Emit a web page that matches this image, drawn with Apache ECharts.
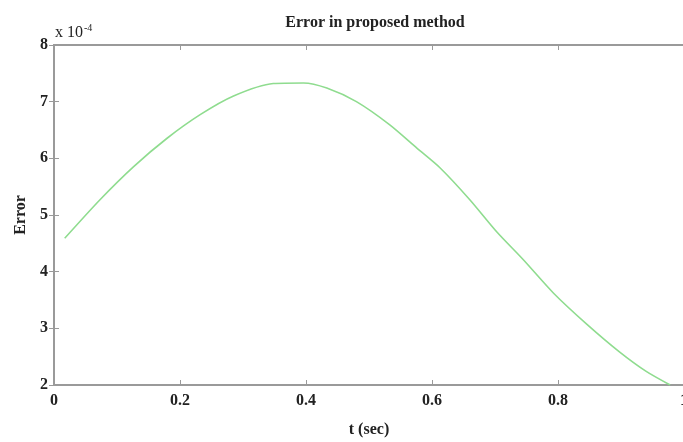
<!DOCTYPE html>
<html>
<head>
<meta charset="utf-8">
<script src="https://cdn.jsdelivr.net/npm/echarts@6/dist/echarts.min.js"></script>
<style>html,body{margin:0;padding:0;background:#fff}#c{width:683px;height:442px}</style>
</head>
<body>
<div id="c"></div>
<script>
// t (sec)
const tValues = [0.017, 0.073, 0.126, 0.179, 0.232, 0.285, 0.348, 0.396, 0.433, 0.480, 0.533, 0.576, 0.613, 0.660, 0.703, 0.745, 0.793, 0.846, 0.898, 0.940, 0.978];
// Error, in units of 1e-4
const errorValues = [4.59, 5.27, 5.85, 6.35, 6.77, 7.10, 7.32, 7.33, 7.24, 7.00, 6.59, 6.18, 5.83, 5.27, 4.70, 4.21, 3.62, 3.07, 2.58, 2.24, 2.00];
const xTicks = [0, 0.2, 0.4, 0.6, 0.8, 1];
const yTicks = [2, 3, 4, 5, 6, 7, 8];

const font = '"Liberation Serif", "Times New Roman", serif';
const axisColor = '#9a9a9a';
const data = tValues.map((t, i) => [t, errorValues[i]]);

const chart = echarts.init(document.getElementById('c'));
const labelStyle = { color: '#222', fontFamily: font, fontWeight: 'bold', fontSize: 16 };
chart.setOption({
  animation: false,
  title: {
    text: 'Error in proposed method',
    left: 370, top: 10, textAlign: 'center',
    textStyle: { color: '#222', fontFamily: font, fontWeight: 'bold', fontSize: 16 }
  },
  graphic: [{
    type: 'text', left: 55, top: 23,
    style: {
      text: '{a|x 10}{s|-4}',
      rich: {
        a: { fontFamily: font, fontSize: 16, fill: '#222', verticalAlign: 'bottom' },
        s: { fontFamily: font, fontSize: 10, fill: '#222', verticalAlign: 'top', padding: [0, 0, 8, 1] }
      }
    }
  }],
  grid: { left: 54, right: -1, top: 45, bottom: 57, containLabel: false, outerBoundsMode: 'none' },
  xAxis: [{
    type: 'value', min: 0, max: 1, interval: 0.2,
    name: 't (sec)', nameLocation: 'middle', nameGap: 37,
    nameTextStyle: { color: '#222', fontFamily: font, fontWeight: 'bold', fontSize: 16 },
    axisLine: { show: true, lineStyle: { color: axisColor, width: 2 } },
    axisTick: { show: true, inside: true, length: 5, lineStyle: { color: axisColor } },
    axisLabel: Object.assign({ margin: 8, formatter: v => xTicks.includes(+v.toFixed(1)) ? String(+v.toFixed(1)) : '' }, labelStyle),
    splitLine: { show: false }
  }, {
    type: 'value', min: 0, max: 1, interval: 0.2, position: 'top',
    axisLine: { show: true, lineStyle: { color: axisColor, width: 2 } },
    axisTick: { show: true, inside: true, length: 5, lineStyle: { color: axisColor } },
    axisLabel: { show: false }, splitLine: { show: false }
  }],
  yAxis: [{
    type: 'value', min: 2, max: 8, interval: 1,
    name: 'Error', nameLocation: 'middle', nameGap: 25, nameRotate: 90,
    nameTextStyle: { color: '#222', fontFamily: font, fontWeight: 'bold', fontSize: 16 },
    axisLine: { show: true, lineStyle: { color: axisColor, width: 2 } },
    axisTick: { show: true, inside: true, length: 5, lineStyle: { color: axisColor } },
    axisLabel: Object.assign({ margin: 6, formatter: v => yTicks.includes(v) ? String(v) : '' }, labelStyle),
    splitLine: { show: false }
  }, {
    type: 'value', min: 2, max: 8, interval: 1, position: 'right',
    axisLine: { show: true, lineStyle: { color: axisColor, width: 2 } },
    axisTick: { show: true, inside: true, length: 5, lineStyle: { color: axisColor } },
    axisLabel: { show: false }, splitLine: { show: false }
  }],
  series: [{
    type: 'line', data: data, smooth: 0.25, showSymbol: false,
    lineStyle: { color: '#8fdc8f', width: 1.6 }
  }]
});
</script>
</body>
</html>
